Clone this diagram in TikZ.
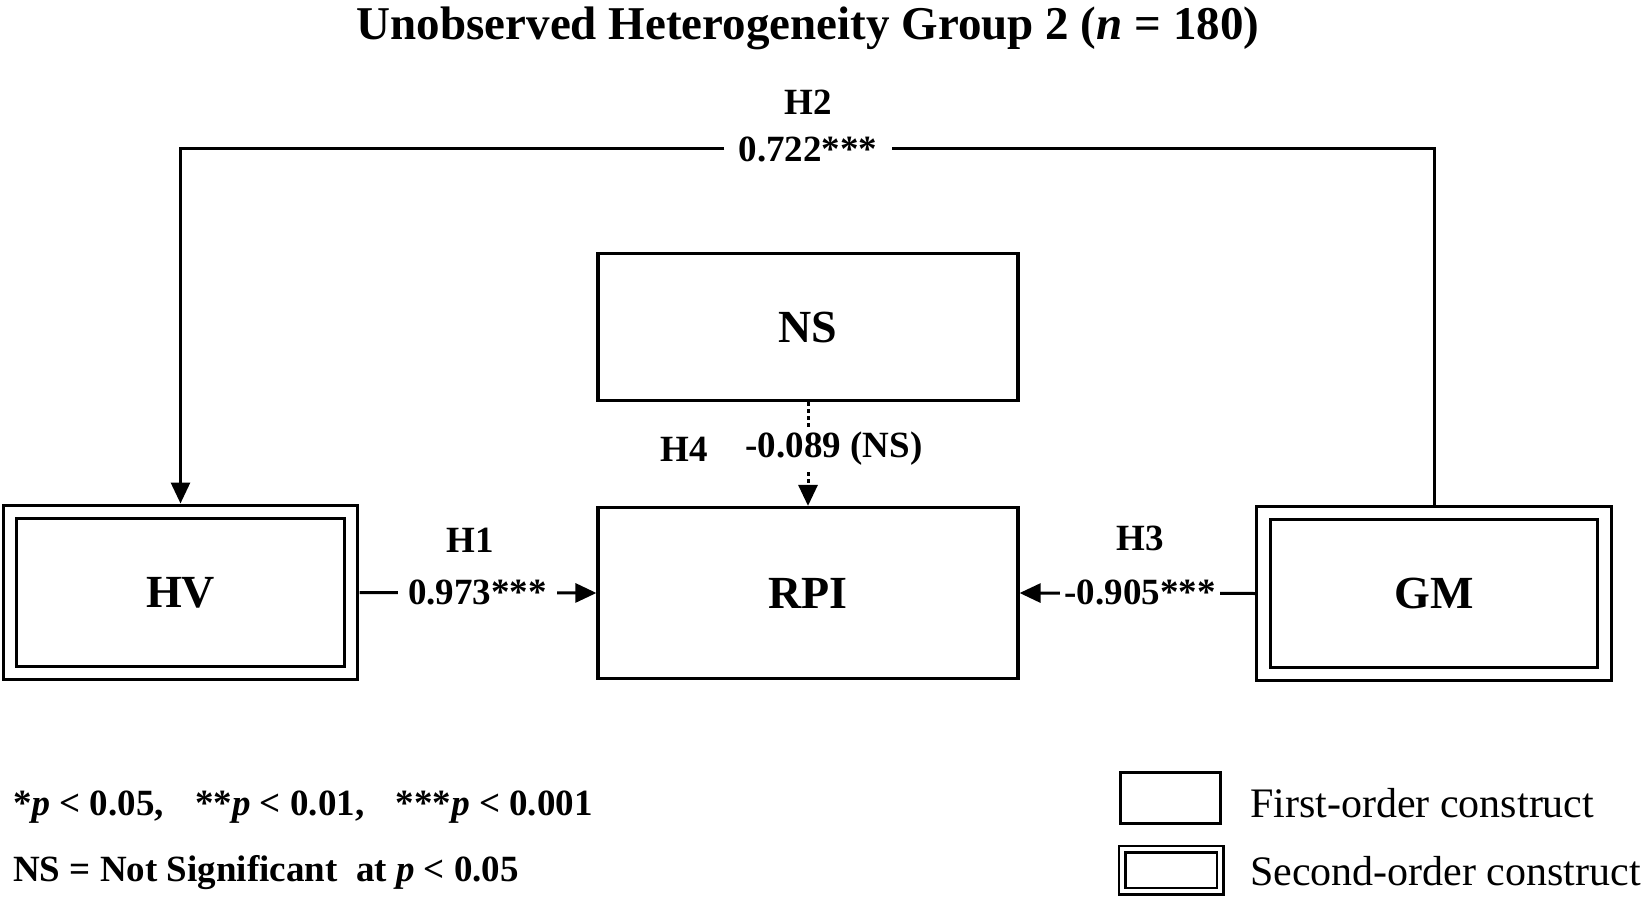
\documentclass[tikz,border=0pt]{standalone}
\usepackage{fontspec}
\setmainfont{Liberation Serif}
\usetikzlibrary{arrows.meta}

\begin{document}
\begin{tikzpicture}[x=1pt, y=-1pt,
    first/.style={draw, line width=3.2pt, inner sep=0pt, minimum width=420pt, font=\fontsize{46}{50}\selectfont\bfseries},
    second/.style={draw, double, double distance=10.5pt, line width=3.2pt, outer sep=8.5pt, inner sep=0pt, minimum width=341pt, minimum height=161pt, font=\fontsize{46}{50}\selectfont\bfseries},
    lab/.style={font=\fontsize{37}{40}\selectfont\bfseries, inner sep=0pt},
    val/.style={lab, fill=white, inner ysep=4pt},
    conn/.style={line width=3pt, -{Triangle[length=21pt, width=19pt]}}]
      \useasboundingbox (0,0) rectangle (1650,904);
      \node[font=\fontsize{47}{50}\selectfont\bfseries] (title) at (808,28) {Unobserved Heterogeneity Group 2 (\textit{n} = 180)};
      % constructs
      \node[first, minimum height=147pt] (NS) at (808,327) {NS};
      \node[first, minimum height=171pt] (RPI) at (808,593) {RPI};
      \node[second] (HV) at (180.5,592.5) {HV};
      \node[second] (GM) at (1434,593.5) {GM};
      % paths
      \node[val, inner xsep=14pt] (h2val) at (808,149) {0.722***};
      \node[lab] (h2) at (808,102) {H2};
      \draw[line width=3pt] (GM.north) |- (h2val.east);
      \draw[conn] (h2val.west) -| (HV.north);
      \draw[conn] (HV.east) -- (RPI.west);
      \node[val, inner xsep=10pt] (h1val) at (477.5,592) {0.973***};
      \node[lab] (h1) at (470,540) {H1};
      \draw[conn] (GM.west) -- (RPI.east);
      \node[val, inner xsep=4pt] (h3val) at (1140,592) {-0.905***};
      \node[lab] (h3) at (1140,538) {H3};
      \draw[conn, dash pattern=on 4pt off 3pt] (NS.south) -- (RPI.north);
      \node[val] (h4val) at (834,449) {-0.089 (NS)};
      \node[lab] (h4) at (684,449) {H4};
      % legend
      \node[lab, anchor=west] (sig) at (13,807) {*\textit{p} < 0.05,\hspace{0.6em} **\textit{p} < 0.01,\hspace{0.6em} ***\textit{p} < 0.001};
      \node[lab, anchor=west] (nsnote) at (13,873) {NS = Not Significant\ \ at \textit{p} < 0.05};
      \node[draw, line width=3pt, minimum width=100pt, minimum height=51pt] (leg1) at (1170,798) {};
      \node[draw, double, double distance=4pt, line width=2.5pt, minimum width=98pt, minimum height=42pt] (leg2) at (1171,870) {};
      \node[font=\fontsize{42}{46}\selectfont, anchor=west, inner sep=0pt] (leg1txt) at (1250,803) {First-order construct};
      \node[font=\fontsize{42}{46}\selectfont, anchor=west, inner sep=0pt] (leg2txt) at (1250,871) {Second-order construct};
    \end{tikzpicture}
\end{document}
